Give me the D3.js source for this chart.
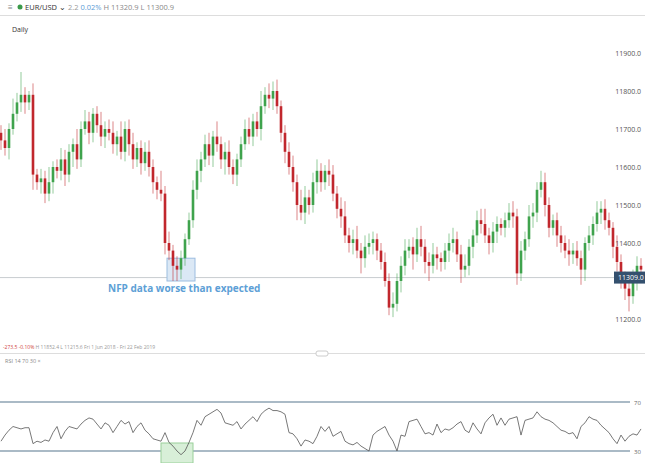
<!DOCTYPE html>
<html><head><meta charset="utf-8">
<script src="https://cdn.jsdelivr.net/npm/d3@7"></script>
<style>body{margin:0;background:#fff;font-family:"Open Sans",Arial,sans-serif}</style>
</head><body><svg id="c" width="645" height="463"></svg>
<script>
const closes=[11670,11650,11700,11740,11770,11790,11770,11790,11580,11560,11570,11530,11560,11600,11590,11620,11580,11640,11660,11620,
11700,11720,11690,11740,11710,11680,11700,11690,11660,11680,11640,11700,11660,11620,11650,11610,11640,11600,11560,11540,
11530,11400,11380,11340,11330,11360,11410,11460,11540,11590,11620,11660,11630,11680,11660,11620,11640,11600,11580,11620,
11660,11700,11680,11720,11700,11760,11790,11780,11800,11760,11690,11640,11600,11560,11500,11480,11520,11500,11560,11590,
11560,11590,11580,11530,11490,11470,11420,11400,11410,11380,11360,11390,11400,11410,11380,11350,11300,11230,11240,11300,
11340,11380,11390,11370,11410,11390,11350,11340,11370,11360,11350,11380,11400,11410,11370,11330,11340,11390,11420,11460,
11450,11420,11400,11430,11450,11440,11460,11480,11470,11320,11380,11410,11470,11480,11540,11560,11500,11440,11460,11420,
11400,11380,11370,11380,11360,11330,11400,11420,11450,11480,11490,11460,11440,11390,11350,11300,11280,11260,11300,11340,11330];
const wickUp=[20,30,15,40,25,60,20,10,30,15,25,20,40,15,20,30,25,20,15,40,20,30,25,15,20,35,20,25,30,15,40,20,25,30,15,20,25,30,20,15,
50,20,30,15,25,20,15,20,25,30,20,25,30,15,40,20,25,30,20,15,20,25,30,20,25,40,20,30,25,30,15,20,25,30,20,40,30,20,25,30,
20,15,30,25,20,30,40,20,25,35,20,30,25,20,15,20,25,20,30,20,25,30,20,25,30,35,20,25,30,20,15,20,25,30,20,25,30,20,15,25,
30,40,20,25,20,15,20,25,30,20,25,20,30,25,20,30,25,20,15,20,25,20,30,20,25,20,15,25,20,30,20,25,20,15,30,20,25,20,30,25,20];
const wickDn=[25,20,30,15,20,25,30,20,40,20,30,25,20,30,20,25,30,20,40,25,20,15,30,25,20,25,30,20,25,30,20,25,30,25,20,30,20,25,30,25,
20,30,25,40,30,25,20,15,20,25,30,20,25,30,20,25,40,20,25,30,20,15,20,25,20,30,20,25,30,20,25,30,20,25,40,20,30,25,20,30,
25,20,30,20,25,30,20,25,30,20,40,25,20,30,25,20,15,20,25,20,30,25,20,40,20,25,30,40,20,30,25,20,30,25,20,35,20,25,30,20,
25,20,30,25,30,20,25,20,30,30,20,25,20,30,25,20,30,25,20,30,25,20,30,25,20,40,30,20,25,20,30,25,20,30,25,20,30,40,20,25,20];
const rsi=[38,43,47,50,49,48,49,49,36,38,37,39,38,45,50,40,46,50,49,48,52,55,57,56,52,48,53,51,45,50,55,52,54,45,50,53,47,44,40,39,
38,45,37,34,30,27,30,37,45,55,51,58,60,62,64,61,53,52,51,54,48,52,55,58,54,60,63,65,63,63,62,60,45,44,40,34,39,38,36,42,
50,46,50,42,44,46,38,36,35,37,34,32,30,43,46,48,50,43,38,30,43,42,54,55,56,50,44,45,43,52,45,48,47,49,52,54,47,45,53,48,
44,53,57,60,51,57,51,56,57,58,43,55,56,57,62,58,56,55,53,50,47,46,44,45,40,50,53,58,56,55,51,48,45,40,36,43,38,42,44,43,48];
const priceTicks=[11200,11400,11500,11600,11700,11800,11900];
const rsiTicks=[30,70];
const lastPrice=11309;

const svg=d3.select("#c");
const x=d3.scaleLinear().domain([0,closes.length-1]).range([1,641]);
const y=d3.scaleLinear().domain([11200,11900]).range([319,53]);
const yr=d3.scaleLinear().domain([30,70]).range([451,402]);
const G="#3fa34d",R="#c1272d";
svg.append("line").attr("x1",0).attr("x2",645).attr("y1",15.5).attr("y2",15.5).attr("stroke","#ddd");
svg.append("text").attr("x",8).attr("y",10).attr("font-size",8).attr("fill","#888").text("≡");
svg.append("circle").attr("cx",20).attr("cy",7).attr("r",2.5).attr("fill","#3a9a4a");
const h=svg.append("text").attr("x",25).attr("y",10).attr("font-size",7.5);
h.append("tspan").attr("fill","#333").text("EUR/USD ⌄  ");
h.append("tspan").attr("fill","#999").text("2.2  ");
h.append("tspan").attr("fill","#5b9bd5").text("0.02%  ");
h.append("tspan").attr("fill","#888").text("H 11320.9  L 11300.9");
svg.append("text").attr("x",12).attr("y",32).attr("font-size",7).attr("fill","#333").text("Daily");
svg.selectAll(".pt").data(priceTicks).join("text").attr("x",641).attr("y",d=>y(d)+2.5).attr("text-anchor","end")
 .attr("font-size",7).attr("fill","#555").text(d=>d.toFixed(1));
svg.append("line").attr("x1",0).attr("x2",645).attr("y1",y(lastPrice)).attr("y2",y(lastPrice)).attr("stroke","#c8ccd0");
svg.append("rect").attr("x",x(41.5)).attr("y",y(11360)).attr("width",x(48.5)-x(41.5)).attr("height",y(11300)-y(11360))
 .attr("fill","#dbe8f5").attr("stroke","#9cbde0");
const g=svg.append("g");
closes.forEach((c,i)=>{
 const o=i?closes[i-1]:c+20;
 const hi=Math.max(o,c)+wickUp[i],lo=Math.min(o,c)-wickDn[i];
 const col=c>=o?G:R;
 g.append("line").attr("x1",x(i)).attr("x2",x(i)).attr("y1",y(hi)).attr("y2",y(lo)).attr("stroke",col).attr("stroke-width",0.7).attr("opacity",0.8);
 g.append("rect").attr("x",x(i)-1.3).attr("width",2.6).attr("y",y(Math.max(o,c))).attr("height",Math.max(1,Math.abs(y(o)-y(c)))).attr("fill",col);
});
svg.append("rect").attr("x",614).attr("y",y(lastPrice)-6).attr("width",31).attr("height",12).attr("fill","#34506e");
svg.append("text").attr("x",618).attr("y",y(lastPrice)+2.5).attr("font-size",7).attr("fill","#fff").text("11309.0");
svg.append("text").attr("x",108).attr("y",292).attr("font-size",10).attr("font-weight","bold").attr("fill","#5d9fd6").text("NFP data worse than expected");
const b=svg.append("text").attr("x",3).attr("y",349).attr("font-size",5).attr("fill","#999");
b.append("tspan").attr("fill","#d04040").text("-273.5    -0.10%   ");
b.append("tspan").text("H 11852.4   L 11215.6   Fri 1 Jun 2018 - Fri 22 Feb 2019");
svg.append("line").attr("x1",0).attr("x2",645).attr("y1",353.5).attr("y2",353.5).attr("stroke","#ddd");
svg.append("rect").attr("x",316).attr("y",351).attr("width",12).attr("height",5).attr("rx",2).attr("fill","#fff").attr("stroke","#ccc");
svg.append("text").attr("x",5).attr("y",363).attr("font-size",5.5).attr("fill","#888").text("RSI  14  70  30  ×");
svg.selectAll(".rl").data(rsiTicks).join("line").attr("x1",0).attr("x2",630).attr("y1",d=>yr(d)).attr("y2",d=>yr(d)).attr("stroke","#8ea3b3").attr("stroke-width",1.3);
svg.selectAll(".rt").data(rsiTicks).join("text").attr("x",634).attr("y",d=>yr(d)+2.5).attr("font-size",6).attr("fill","#666").text(d=>d);
svg.append("rect").attr("x",x(40)).attr("y",443).attr("width",x(48)-x(40)).attr("height",20).attr("fill","#d8efd8").attr("stroke","#9ad09a");
svg.append("path").datum(rsi).attr("d",d3.line().x((d,i)=>x(i)).y(d=>yr(d))).attr("fill","none").attr("stroke","#555").attr("stroke-width",0.8);
</script></body></html>
